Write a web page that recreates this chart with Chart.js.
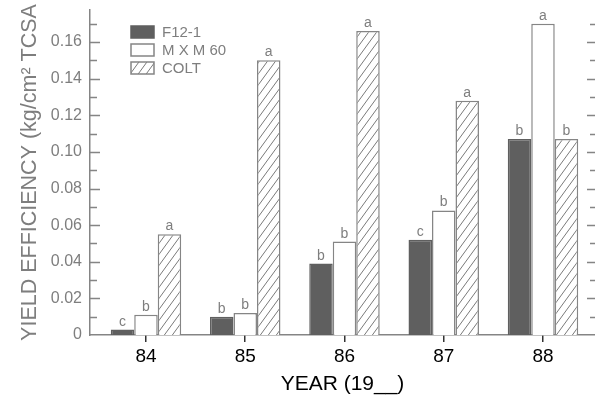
<!DOCTYPE html>
<html>
<head>
<meta charset="utf-8">
<script src="https://cdn.jsdelivr.net/npm/chart.js@4.4.0/dist/chart.umd.min.js"></script>
<style>
  html, body { margin: 0; padding: 0; background: #fff; }
</style>
</head>
<body>
<canvas id="yieldChart" width="595" height="395"></canvas>
<script>
// data
const years = [84, 85, 86, 87, 88];
const seriesNames = ['F12-1', 'M X M 60', 'COLT'];
const f12Values = [0.003, 0.010, 0.039, 0.052, 0.107];
const mxmValues = [0.011, 0.012, 0.051, 0.068, 0.170];
const coltValues = [0.055, 0.150, 0.166, 0.128, 0.107];
// significance letters above bars
const f12Letters = ['c', 'b', 'b', 'c', 'b'];
const mxmLetters = ['b', 'b', 'b', 'b', 'a'];
const coltLetters = ['a', 'a', 'a', 'a', 'b'];
const yTickLabels = ['0', '0.02', '0.04', '0.06', '0.08', '0.10', '0.12', '0.14', '0.16'];

const FONT = '"Liberation Sans", Arial, sans-serif';
const GREY = '#7e7e7e';
const LINE = '#858585';

// diagonal hatch for COLT
function makeHatch() {
  const w = 8, h = 11;
  const c = document.createElement('canvas');
  c.width = w; c.height = h;
  const g = c.getContext('2d');
  g.fillStyle = '#fff';
  g.fillRect(0, 0, w, h);
  g.strokeStyle = '#7a7a7a';
  g.lineWidth = 1;
  g.beginPath();
  g.moveTo(-w, 2 * h); g.lineTo(2 * w, -h);
  g.moveTo(-w, h); g.lineTo(w, -h);
  g.moveTo(0, 2 * h); g.lineTo(2 * w, 0);
  g.stroke();
  return g.createPattern(c, 'repeat');
}

const hatch = makeHatch();
const letterSets = [f12Letters, mxmLetters, coltLetters];

function points(vals) {
  return years.map((yr, i) => ({ x: yr, y: vals[i] }));
}

// letters a/b/c above each bar
const barLetters = {
  id: 'barLetters',
  afterDatasetsDraw(chart) {
    const ctx = chart.ctx;
    ctx.save();
    ctx.font = '14px ' + FONT;
    ctx.fillStyle = GREY;
    ctx.textAlign = 'center';
    ctx.textBaseline = 'alphabetic';
    chart.data.datasets.forEach((ds, i) => {
      chart.getDatasetMeta(i).data.forEach((bar, j) => {
        ctx.fillText(letterSets[i][j], bar.x, bar.y - 4);
      });
    });
    ctx.restore();
  }
};

// inward tick marks on left and right edges (major every 0.02)
const axisTicks = {
  id: 'axisTicks',
  afterDraw(chart) {
    const { ctx, chartArea } = chart;
    const y = chart.scales.y;
    ctx.save();
    ctx.strokeStyle = LINE;
    ctx.lineWidth = 1.5;
    y.ticks.forEach(t => {
      const k = Math.round(t.value * 100);
      if (k === 0) return;
      const major = k % 2 === 0;
      const py = Math.round(y.getPixelForValue(t.value)) + 0.5;
      ctx.beginPath();
      ctx.moveTo(chartArea.left, py);
      ctx.lineTo(chartArea.left + (major ? 10 : 7), py);
      ctx.moveTo(chartArea.right, py);
      ctx.lineTo(chartArea.right - (major ? 8 : 5), py);
      ctx.stroke();
    });
    ctx.restore();
  }
};

// legend box inside the plot, top left
const boxLegend = {
  id: 'boxLegend',
  afterDraw(chart) {
    const { ctx, chartArea } = chart;
    const x0 = chartArea.left + 41;
    const y0 = chartArea.top + 16;
    ctx.save();
    chart.data.datasets.forEach((ds, i) => {
      const top = y0 + i * 18;
      ctx.fillStyle = ds.backgroundColor;
      ctx.fillRect(x0, top, 23, 12);
      ctx.strokeStyle = ds.borderColor;
      ctx.lineWidth = 1.5;
      ctx.strokeRect(x0, top, 23, 12);
      ctx.fillStyle = GREY;
      ctx.font = '15px ' + FONT;
      ctx.textBaseline = 'middle';
      ctx.textAlign = 'left';
      ctx.fillText(ds.label, x0 + 31, top + 6.5);
    });
    ctx.restore();
  }
};

new Chart(document.getElementById('yieldChart'), {
  type: 'bar',
  data: {
    datasets: [
      { label: seriesNames[0], data: points(f12Values), backgroundColor: '#5f5f5f', borderColor: '#5f5f5f', borderWidth: 1.5 },
      { label: seriesNames[1], data: points(mxmValues), backgroundColor: '#ffffff', borderColor: LINE, borderWidth: 1.5 },
      { label: seriesNames[2], data: points(coltValues), backgroundColor: hatch, borderColor: LINE, borderWidth: 1.5 }
    ]
  },
  options: {
    responsive: false,
    animation: false,
    categoryPercentage: 0.71,
    barPercentage: 1,
    layout: { padding: { top: 10, right: 0, left: 0, bottom: 0 } },
    plugins: { legend: { display: false }, tooltip: { enabled: false } },
    scales: {
      x: {
        type: 'linear',
        min: 83.436,
        max: 88.524,
        offset: false,
        grid: { display: true, offset: false, drawOnChartArea: false, drawTicks: true, tickLength: 7, color: '#333', lineWidth: 1.5 },
        border: { display: true, color: LINE, width: 1.5 },
        ticks: {
          stepSize: 1,
          includeBounds: false,
          autoSkip: false,
          maxRotation: 0,
          padding: 3,
          color: '#000',
          font: { family: FONT, size: 19 },
          callback: v => String(v)
        },
        title: {
          display: true,
          text: 'YEAR (19__)',
          color: '#000',
          font: { family: FONT, size: 21, lineHeight: 1 },
          padding: { top: 0, bottom: 0 }
        },
        afterFit: s => { s.height = 60; s.paddingLeft = 0; s.paddingRight = 0; }
      },
      y: {
        min: 0,
        max: 0.1775,
        grid: { display: false, drawTicks: false },
        border: { display: true, color: LINE, width: 1.5 },
        ticks: {
          stepSize: 0.01,
          includeBounds: false,
          autoSkip: false,
          padding: 8,
          color: GREY,
          font: { family: FONT, size: 16 },
          callback: v => {
            const k = Math.round(v * 100);
            return k % 2 ? '' : yTickLabels[k / 2];
          }
        },
        title: {
          display: true,
          text: 'YIELD EFFICIENCY (kg/cm² TCSA',
          color: GREY,
          font: { family: FONT, size: 21.5 },
          padding: { top: 17, bottom: 0 }
        },
        afterFit: s => { s.width = 90; s.paddingTop = 0; s.paddingBottom = 0; }
      }
    }
  },
  plugins: [barLetters, axisTicks, boxLegend]
});
</script>
</body>
</html>
